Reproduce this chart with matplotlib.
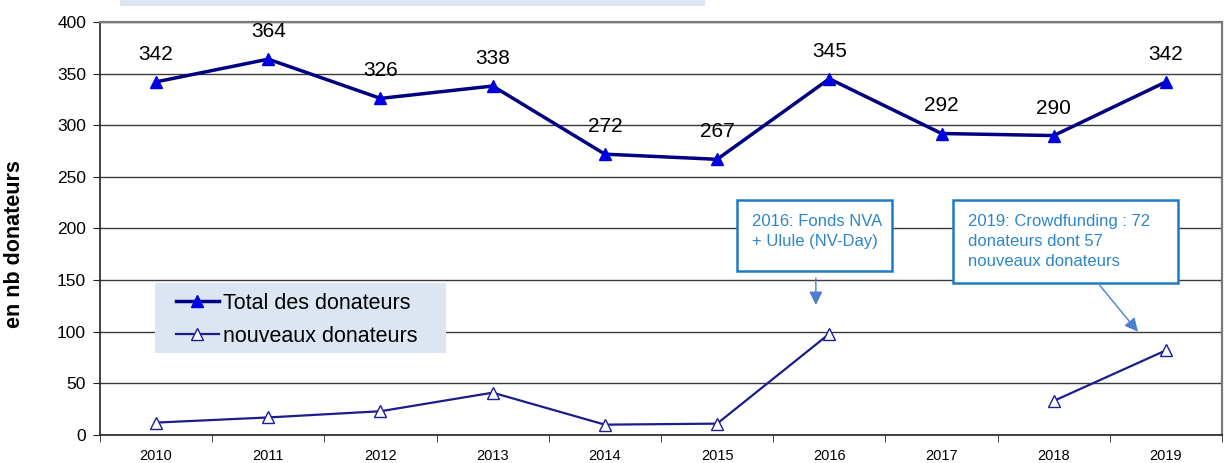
import numpy as np
import matplotlib.pyplot as plt
from matplotlib.patches import Rectangle

years = ['2010', '2011', '2012', '2013', '2014', '2015', '2016', '2017', '2018', '2019']
total = [342, 364, 326, 338, 272, 267, 345, 292, 290, 342]
nouveaux = [12, 17, 23, 41, 10, 11, 98, np.nan, 33, 82]
yticks = [0, 50, 100, 150, 200, 250, 300, 350, 400]
note_2016 = "2016: Fonds NVA\n+ Ulule (NV-Day)"
note_2019 = "2019: Crowdfunding : 72\ndonateurs dont 57\nnouveaux donateurs"

plt.rcParams['font.family'] = ['Liberation Sans', 'DejaVu Sans']

fig = plt.figure(figsize=(12.25, 4.63), dpi=100)
ax = fig.add_axes([0.0816, 0.0605, 0.916, 0.892])

# bout du cadre de titre, coupe en haut de l'image
fig.patches.append(Rectangle((120 / 1225, 1 - 6 / 463), 585 / 1225, 6 / 463,
                             transform=fig.transFigure, facecolor='#dce6f2',
                             edgecolor='none'))

x = np.arange(len(years))
ax.plot(x, total, color='#000080', lw=2.5, marker='^', ms=9,
        mfc='#0000e0', mec='#0000e0', label='Total des donateurs', zorder=3)
ax.plot(x, nouveaux, color='#1c1c8c', lw=1.6, marker='^', ms=8,
        mfc='white', mec='#1c1c9c', mew=1.0, label='nouveaux donateurs', zorder=3)

for xi, v in zip(x, total):
    ax.annotate(str(v), (xi, v), xytext=(0, 13), textcoords='offset points',
                ha='center', va='bottom', fontsize=15)

ax.set_xlim(-0.5, len(years) - 0.5)
ax.set_ylim(0, 400)
ax.set_yticks(yticks)
ax.set_yticklabels([str(t) for t in yticks], fontsize=12.5)
ax.set_xticks(x)
ax.set_xticklabels(years, fontsize=10.5)
ax.set_xticks(np.arange(len(years) + 1) - 0.5, minor=True)
ax.tick_params(axis='x', which='major', length=0, pad=10)
ax.tick_params(axis='x', which='minor', length=5, direction='out', color='#222222')
ax.tick_params(axis='y', length=5, direction='out', color='#222222', pad=5)

ax.yaxis.grid(True, color='#3a3a3a', lw=1)
ax.set_axisbelow(True)
for s in ['left', 'bottom']:
    ax.spines[s].set_color('#222222')
    ax.spines[s].set_linewidth(1.2)
for s in ['top', 'right']:
    ax.spines[s].set_color('#7a7a7a')
    ax.spines[s].set_linewidth(1.6)

ax.set_ylabel('en nb donateurs', fontsize=15.5, fontweight='bold')
ax.yaxis.set_label_coords(-0.067, 0.462)

# legende sur fond bleu clair
ax.add_patch(Rectangle((0.049, 0.1985), 0.2594, 0.1695, transform=ax.transAxes,
                       facecolor='#dce6f2', edgecolor='none', zorder=4))
leg = ax.legend(loc='upper left', bbox_to_anchor=(0.0677, 0.345), fontsize=15.5,
                frameon=False, handlelength=2.0, borderpad=0,
                labelspacing=0.58, handletextpad=0.2, borderaxespad=0)
leg.set_zorder(5)

# encadres d'annotation
ax.add_patch(Rectangle((5.177, 158.8), 1.382, 68.8, facecolor='white',
                       edgecolor='#1f7ac4', lw=1.8, zorder=4))
ax.add_patch(Rectangle((7.10, 147.2), 2.008, 80.4, facecolor='white',
                       edgecolor='#1f7ac4', lw=1.8, zorder=4))
ax.text(5.31, 214, note_2016, ha='left', va='top', fontsize=12,
        color='#2e86c8', linespacing=1.4, zorder=5)
ax.text(7.236, 214, note_2019, ha='left', va='top', fontsize=12,
        color='#2e86c8', linespacing=1.4, zorder=5)
arrow = dict(arrowstyle='-|>', color='#4a7fd0', lw=1, mutation_scale=20,
             shrinkA=0, shrinkB=0)
ax.annotate('', xy=(5.88, 126), xytext=(5.88, 152), arrowprops=arrow)
ax.annotate('', xy=(8.75, 100), xytext=(8.41, 145), arrowprops=arrow)

fig.savefig('out.png', dpi=100)
